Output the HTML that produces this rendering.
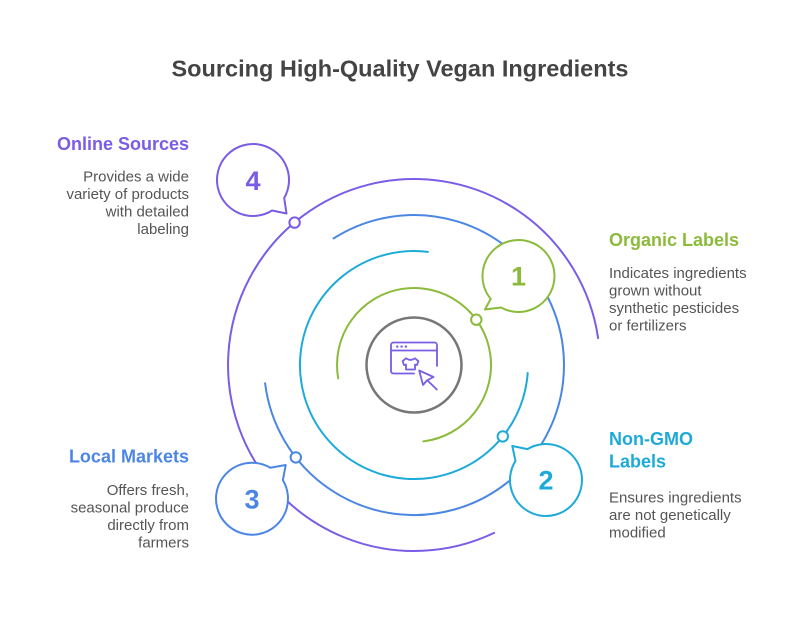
<!DOCTYPE html>
<html>
<head>
<meta charset="utf-8">
<style>
  html,body{margin:0;padding:0;background:#fff;}
  body{width:798px;height:625px;overflow:hidden;}
  svg{display:block;}
  text{font-family:"Liberation Sans", Arial, sans-serif;}
</style>
</head>
<body>
<svg width="798" height="625" viewBox="0 0 798 625" xmlns="http://www.w3.org/2000/svg">
  <rect width="798" height="625" fill="#ffffff"/>

  <!-- Title -->
  <text x="400" y="76.5" text-anchor="middle" font-size="23.5" font-weight="bold" fill="#444444">Sourcing High-Quality Vegan Ingredients</text>

  <!-- Arcs -->
  <g fill="none" stroke-width="2" stroke-linecap="round">
    <path d="M338.2,378.4 A77,77 0 1 1 423.4,441.4" stroke="#8cbb3c"/>
    <path d="M527.7,373 A114,114 0 1 1 427.9,251.9" stroke="#1eaad8"/>
    <path d="M333.6,238.4 A150,150 0 1 1 265.1,383.3" stroke="#4b86e4"/>
    <path d="M494.1,532.9 A186,186 0 1 1 598.1,338.1" stroke="#7a5ce6"/>
  </g>

  <!-- Markers -->
  <g fill="#ffffff" stroke-width="2">
    <circle cx="476.3" cy="319.7" r="5.2" stroke="#8cbb3c"/>
    <circle cx="502.8" cy="436.4" r="5.2" stroke="#1eaad8"/>
    <circle cx="295.8" cy="457.4" r="5.2" stroke="#4b86e4"/>
    <circle cx="294.6" cy="222.6" r="5.2" stroke="#7a5ce6"/>
  </g>

  <!-- Bubbles -->
  <g fill="#ffffff" stroke-width="2" stroke-linejoin="round">
    <path d="M490.7,298.9 A36,36 0 1 1 501.05,307.5 L485,309.5 Z" stroke="#8cbb3c"/>
    <path d="M527.46,449.14 A36,36 0 1 1 515.47,460.92 L512.3,446 Z" stroke="#1eaad8"/>
    <path d="M282.86,480.16 A36,36 0 1 1 270.32,467.71 L285.7,465 Z" stroke="#4b86e4"/>
    <path d="M272.08,210.53 A36,36 0 1 1 284.18,198 L286.5,213.5 Z" stroke="#7a5ce6"/>
  </g>
  <g font-size="27" font-weight="bold" text-anchor="middle">
    <text x="518.5" y="285.5" fill="#8cbb3c">1</text>
    <text x="546" y="489.5" fill="#1eaad8">2</text>
    <text x="252" y="508.5" fill="#4b86e4">3</text>
    <text x="253" y="190" fill="#7a5ce6">4</text>
  </g>

  <!-- Center circle -->
  <circle cx="414" cy="365" r="47.5" fill="#ffffff" stroke="#777777" stroke-width="2.5"/>

  <!-- Icon -->
  <g fill="none" stroke="#7a5ce6" stroke-width="1.8" stroke-linecap="round" stroke-linejoin="round">
    <path d="M414,373.5 H393.5 a2.5,2.5 0 0 1 -2.5,-2.5 V345 a2.5,2.5 0 0 1 2.5,-2.5 H434.5 a2.5,2.5 0 0 1 2.5,2.5 V366"/>
    <line x1="391" y1="350.5" x2="437" y2="350.5"/>
    <path d="M406,358.3 L402.6,361.2 L404,365 L406,364.6 V369.5 H415 V364.6 L417,365 L418.4,361.2 L415,358.3 Q410.5,361.5 406,358.3 Z"/>
    <path d="M419.2,370.5 L423,385 L426.8,380.5 L433.5,377 Z" fill="#ffffff"/>
    <line x1="427.5" y1="380.5" x2="436.8" y2="389.5"/>
  </g>
  <g fill="#7a5ce6">
    <circle cx="397.3" cy="346.6" r="1.2"/>
    <circle cx="401.6" cy="346.6" r="1.2"/>
    <circle cx="405.9" cy="346.6" r="1.2"/>
  </g>

  <!-- Online Sources -->
  <text x="189" y="150" text-anchor="end" font-size="18" font-weight="bold" fill="#7a5ce6">Online Sources</text>
  <g font-size="15" fill="#555555" text-anchor="end">
    <text x="189" y="181.5">Provides a wide</text>
    <text x="189" y="199">variety of products</text>
    <text x="189" y="216.5">with detailed</text>
    <text x="189" y="234">labeling</text>
  </g>

  <!-- Organic Labels -->
  <text x="609" y="246" font-size="18" font-weight="bold" fill="#8cbb3c">Organic Labels</text>
  <g font-size="15" fill="#555555">
    <text x="609" y="278">Indicates ingredients</text>
    <text x="609" y="295.5">grown without</text>
    <text x="609" y="313">synthetic pesticides</text>
    <text x="609" y="330.5">or fertilizers</text>
  </g>

  <!-- Non-GMO Labels -->
  <text x="609" y="445" font-size="18" font-weight="bold" fill="#1eaad8">Non-GMO</text>
  <text x="609" y="467.5" font-size="18" font-weight="bold" fill="#1eaad8">Labels</text>
  <g font-size="15" fill="#555555">
    <text x="609" y="502.5">Ensures ingredients</text>
    <text x="609" y="520">are not genetically</text>
    <text x="609" y="537.5">modified</text>
  </g>

  <!-- Local Markets -->
  <text x="189" y="462.5" text-anchor="end" font-size="18" font-weight="bold" fill="#4b86e4">Local Markets</text>
  <g font-size="15" fill="#555555" text-anchor="end">
    <text x="189" y="495">Offers fresh,</text>
    <text x="189" y="512.5">seasonal produce</text>
    <text x="189" y="530">directly from</text>
    <text x="189" y="547.5">farmers</text>
  </g>
</svg>
</body>
</html>
